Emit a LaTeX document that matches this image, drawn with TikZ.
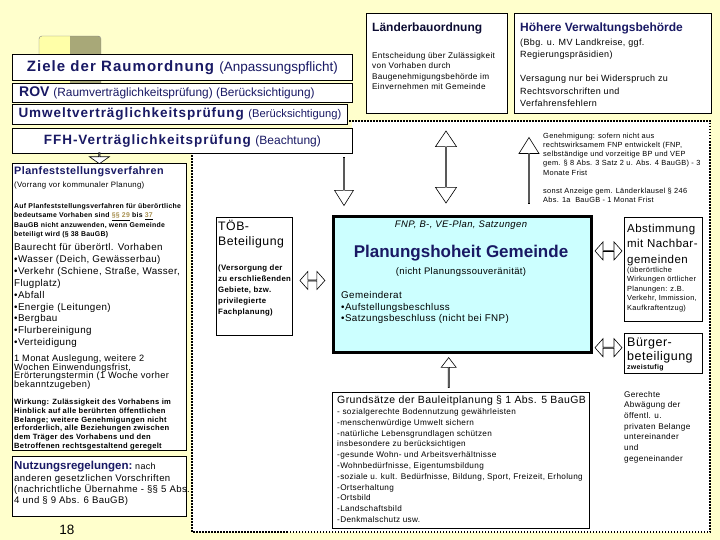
\documentclass[tikz,border=0pt]{standalone}
\usepackage{fontspec}
\setmainfont{Liberation Sans}
\newfontfamily\sm{Liberation Sans}[LetterSpace=4]
\newfontfamily\wb{Liberation Sans}[LetterSpace=7]
\usetikzlibrary{shapes.arrows,calc}
\definecolor{bg}{HTML}{FFFFCC}
\definecolor{navy}{RGB}{25,25,100}
\definecolor{cyanbox}{HTML}{CCFFFF}
\definecolor{olive}{HTML}{A8A878}
\definecolor{paleyel}{HTML}{FFFFA8}
\definecolor{linkc}{HTML}{A89050}
\newcommand\fs[2]{\fontsize{#1}{#2}\selectfont\lineskiplimit=-50pt\lineskip=0pt}
\newcommand\fls{\rule{0pt}{.9em}}
\newcommand\lnk[1]{\underline{\textcolor{linkc}{#1}}}
\begin{document}
\begin{tikzpicture}[x=1pt,y=-1pt,
  box/.style={draw=black,line width=0.8pt,fill=white,inner sep=0pt,anchor=north west},
  txt/.style={inner sep=0pt,anchor=north west,align=left},
  lbl/.style={inner sep=0pt,anchor=west},
  ctr/.style={inner sep=0pt},
  dotline/.style={line width=2.3pt,dash pattern=on 1.5pt off 1.5pt},
  blk/.style={draw=black,line width=0.6pt,fill=white,inner sep=0pt,outer sep=0pt},
  sarr/.style={blk,single arrow},
  darr/.style={blk,double arrow},
]
\useasboundingbox (0,0) rectangle (720,540);
\fill[bg] (0,0) rectangle (720,540);
% white working area and dotted frame
\fill[white] (192,153) -- (352,153) -- (352,121) -- (710,121) -- (710,532) -- (192,532) -- cycle;
\draw[dotline] (349,121) -- (710,121) -- (710,532) -- (192,532) -- (192,153);
% decorative square
\begin{scope}
\clip[rounded corners=3] (39,36) rectangle (101,100);
\fill[paleyel] (39,36) rectangle (70,100);
\fill[olive] (70,36) rectangle (101,100);
\end{scope}
\draw[gray,rounded corners=3] (39,36) rectangle (101,100);

% top-left stacked boxes
\node[box,minimum width=340,minimum height=26] (ziele) at (12,54) {};
\node[ctr,text=navy] (zielet) at (ziele.center) {\wb\bfseries\fs{15}{15}Ziele der Raumordnung\ \normalfont\fs{13.5}{14}(Anpassungspflicht)};
\node[box,minimum width=340,minimum height=19] (rov) at (12,83) {};
\node[lbl,text=navy] (rovt) at ($(rov.west)+(7,0)$) {\bfseries\fs{14}{14}ROV\ \normalfont\fs{11.9}{12}(Raumverträglichkeitsprüfung) (Berücksichtigung)};
\node[box,minimum width=335,minimum height=20] (uvp) at (12,104) {};
\node[ctr,text=navy] (uvpt) at (uvp.center) {\wb\bfseries\fs{13.5}{14}Umweltverträglichkeitsprüfung\ \normalfont\fs{11.2}{12}(Berücksichtigung)};
\node[box,minimum width=340,minimum height=25] (ffh) at (12,128) {};
\node[ctr,text=navy] (ffht) at (ffh.center) {\wb\bfseries\fs{13.5}{14}FFH-Verträglichkeitsprüfung\ \normalfont\fs{12}{12}(Beachtung)};

% top-right boxes
\node[box,minimum width=141,minimum height=100] (lbo) at (366,13) {};
\node[lbl,text=navy!50!black] (lbot) at (372,28) {\bfseries\fs{12}{12}Länderbauordnung};
\node[txt,font={\sm\fs{8.2}{10.5}}] (lbob) at (372,50.5) {\fls Entscheidung über Zulässigkeit\\von Vorhaben durch\\Baugenehmigungsbehörde im\\Einvernehmen mit Gemeinde};
\node[box,minimum width=197,minimum height=100] (hvb) at (514,13) {};
\node[lbl,text=navy] (hvbt) at (520,28) {\bfseries\fs{12}{12}Höhere Verwaltungsbehörde};
\node[txt,font={\sm\fs{9}{12.2}}] (hvbb) at (520,37) {\fls(Bbg. u. MV Landkreise, ggf.\\Regierungspräsidien)\\[12.2pt]Versagung nur bei Widerspruch zu\\Rechtsvorschriften und\\Verfahrensfehlern};

% Genehmigung text
\node[txt,font={\sm\fs{7.4}{9.2}}] (gen) at (543,131.5) {\fls Genehmigung: sofern nicht aus\\rechtswirksamem FNP entwickelt (FNP,\\selbständige und vorzeitige BP und VEP\\gem. § 8 Abs. 3 Satz 2 u. Abs. 4 BauGB) - 3\\Monate Frist\\[9.2pt]sonst Anzeige gem. Länderklausel § 246\\Abs. 1a \ BauGB - 1 Monat Frist};

% left column
\node[box,minimum width=174,minimum height=287] (pf) at (12,163) {};
\node[lbl,text=navy,font={\sm\bfseries\fs{10.8}{12}}] (pft) at (14,172) {Planfeststellungsverfahren};
\node[lbl,font={\sm\fs{7.8}{9}}] (pfv) at (14,185) {(Vorrang vor kommunaler Planung)};
\node[txt,font={\sm\bfseries\fs{6.9}{9.5}}] (pfa) at (14,202) {\fls Auf Planfeststellungsverfahren für überörtliche\\bedeutsame Vorhaben sind \lnk{§§ 29} bis \lnk{37}\\BauGB nicht anzuwenden, wenn Gemeinde\\beteiligt wird (§ 38 BauGB)};
\node[txt,font={\sm\fs{9.8}{11.9}}] (pfb) at (14,241.5) {\fls Baurecht für überörtl. Vorhaben\\•Wasser (Deich, Gewässerbau)\\•Verkehr (Schiene, Straße, Wasser,\\Flugplatz)\\•Abfall\\•Energie (Leitungen)\\•Bergbau\\•Flurbereinigung\\•Verteidigung};
\node[txt,font={\sm\fs{9.2}{8.6}}] (pfm) at (14,353.3) {\fls 1 Monat Auslegung, weitere 2\\Wochen Einwendungsfrist,\\Erörterungstermin (1 Woche vorher\\bekanntzugeben)};
\node[txt,font={\sm\bfseries\fs{7.6}{8.7}}] (pfw) at (14,397.7) {\fls Wirkung: Zulässigkeit des Vorhabens im\\Hinblick auf alle berührten öffentlichen\\Belange; weitere Genehmigungen nicht\\erforderlich, alle Beziehungen zwischen\\dem Träger des Vorhabens und den\\Betroffenen rechtsgestaltend geregelt};
\node[box,minimum width=174,minimum height=60] (nutz) at (12,456) {};
\node[lbl] (nutzt) at (14,467) {\textcolor{navy}{\bfseries\fs{11.5}{12}Nutzungsregelungen:}\ \sm\fs{9}{10}nach};
\node[txt,font={\sm\fs{9.6}{11}}] (nutzb) at (14,473) {\fls anderen gesetzlichen Vorschriften\\(nachrichtliche Übernahme - §§ 5 Abs.\\4 und § 9 Abs. 6 BauGB)};
\node[ctr] (page) at (67,530) {\fs{13.5}{14}18};

% TÖB box
\node[box,minimum width=76,minimum height=118] (toeb) at (216,217) {};
\node[txt,font={\sm\fs{12.3}{15}}] (toebt) at (218,219) {\fls TÖB-\\Beteiligung};
\node[txt,font={\sm\bfseries\fs{7.8}{11}}] (toebb) at (218,263.5) {\fls(Versorgung der\\zu erschließenden\\Gebiete, bzw.\\privilegierte\\Fachplanung)};

% central box
\node[box,fill=cyanbox,line width=3pt,minimum width=258,minimum height=136] (plan) at (332,215) {};
\node[ctr,font={\sm\itshape\fs{9.5}{10}}] (fnp) at (461,225) {FNP, B-, VE-Plan, Satzungen};
\node[ctr,text=navy,font={\bfseries\fs{17}{18}}] (pht) at (461,253) {Planungshoheit Gemeinde};
\node[ctr,font={\sm\fs{9.5}{10}}] (nps) at (461,272) {(nicht Planungssouveränität)};
\node[txt,font={\sm\fs{9.8}{11.5}}] (grat) at (341,289.5) {\fls Gemeinderat\\•Aufstellungsbeschluss\\•Satzungsbeschluss (nicht bei FNP)};

% right column
\node[box,minimum width=78,minimum height=104] (abst) at (624,217) {};
\node[txt,font={\sm\fs{11.5}{15.5}}] (abstt) at (627,221.5) {\fls Abstimmung\\mit Nachbar-\\gemeinden};
\node[txt,font={\sm\fs{7.4}{9.5}}] (abstb) at (627,265.5) {\fls(überörtliche\\Wirkungen örtlicher\\Planungen: z.B.\\Verkehr, Immission,\\Kaufkraftentzug)};
\node[box,minimum width=78,minimum height=40] (buerg) at (624,333) {};
\node[txt,font={\sm\fs{12.5}{14}}] (buergt) at (627,335) {\fls Bürger-\\beteiligung};
\node[lbl,font={\sm\bfseries\fs{7}{8}}] (zweist) at (627,367.5) {zweistufig};
\node[txt,font={\sm\fs{8.2}{10.7}}] (ger) at (624,389.5) {\fls Gerechte\\Abwägung der\\öffentl. u.\\privaten Belange\\untereinander\\und\\gegeneinander};

% Grundsätze box
\node[box,minimum width=257,minimum height=136] (grund) at (332,392) {};
\node[lbl,font={\sm\fs{10.5}{11}}] (grundt) at (337,401) {Grundsätze der Bauleitplanung § 1 Abs. 5 BauGB};
\node[txt,font={\sm\fs{8.2}{10.8}}] (grundb) at (337,407) {\fls- sozialgerechte Bodennutzung gewährleisten\\-menschenwürdige Umwelt sichern\\-natürliche Lebensgrundlagen schützen\\insbesondere zu berücksichtigen\\-gesunde Wohn- und Arbeitsverhältnisse\\-Wohnbedürfnisse, Eigentumsbildung\\-soziale u. kult. Bedürfnisse, Bildung, Sport, Freizeit, Erholung\\-Ortserhaltung\\-Ortsbild\\-Landschaftsbild\\-Denkmalschutz usw.};

% block arrows
\node[sarr,rotate=-90,minimum height=11,minimum width=20,single arrow head extend=4.5pt,single arrow tip angle=110] (a1) at ($(pf.north)+(0,-5)$) {};
\node[sarr,rotate=-90,minimum height=48,minimum width=19,single arrow head extend=4pt,single arrow tip angle=64] (a2) at ($(plan.north west)+(12,-34)$) {};
\node[darr,rotate=90,minimum height=72,minimum width=21,double arrow head extend=5pt,double arrow tip angle=68] (a3) at ($(plan.north west)+(114,-48)$) {};
\node[sarr,rotate=90,minimum height=66,minimum width=20,single arrow head extend=4.5pt,single arrow tip angle=64] (a4) at ($(plan.north west)+(197,-44)$) {};
\node[darr,minimum height=25,minimum width=18,double arrow head extend=5pt,double arrow tip angle=97] (a5) at ($(toeb.east)!0.5!(plan.west)$) {};
\node[darr,minimum height=27,minimum width=18,double arrow head extend=5pt,double arrow tip angle=97] (a6) at ($(plan.east)!0.5!(abst.west)+(0,-26)$) {};
\node[darr,minimum height=27,minimum width=18,double arrow head extend=5pt,double arrow tip angle=97] (a7) at ($(plan.south east)!0.5!(buerg.west)+(0,-6)$) {};
\node[sarr,rotate=90,minimum height=30,minimum width=15,single arrow head extend=3.5pt,single arrow tip angle=75] (a8) at ($(grund.north)!0.5!(plan.south)+(-13,0)$) {};
\end{tikzpicture}
\end{document}
